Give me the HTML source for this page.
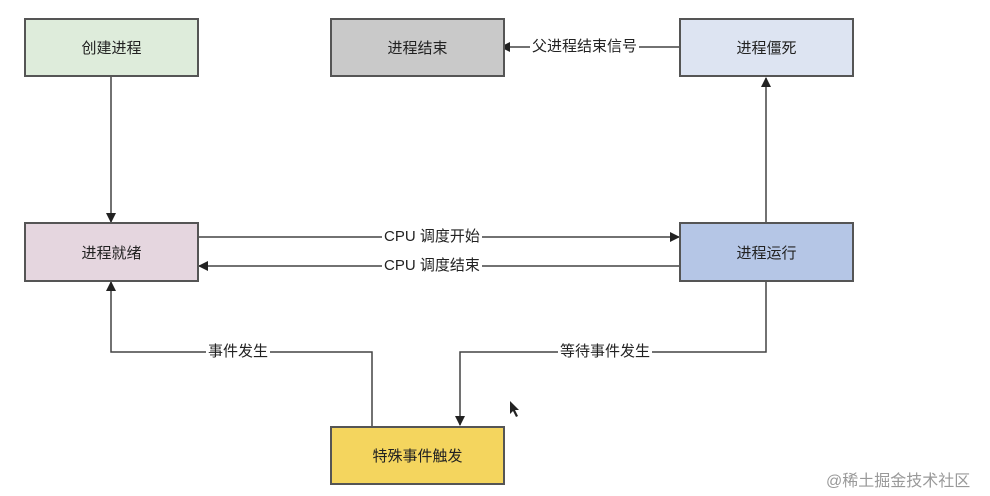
<!DOCTYPE html>
<html><head><meta charset="utf-8"><style>
body{margin:0;width:990px;height:496px;background:#fff;position:relative;overflow:hidden;font-family:"Liberation Sans","Noto Sans CJK SC",sans-serif;}
.b{position:absolute;box-sizing:border-box;border:2px solid #555;display:flex;align-items:center;justify-content:center;font-size:15px;color:#222;}
.l{position:absolute;font-size:15px;color:#222;background:#fff;padding:0 2px;line-height:18px;}
</style></head><body>
<svg width="990" height="496" style="position:absolute;left:0;top:0">
<defs><marker id="a" markerWidth="10" markerHeight="10" refX="9" refY="5" orient="auto" markerUnits="userSpaceOnUse"><path d="M0,0 L10,5 L0,10 Z" fill="#222"/></marker></defs>
<g stroke="#444" stroke-width="1.5" fill="none">
<line x1="111" y1="77" x2="111" y2="222" marker-end="url(#a)"/>
<line x1="680" y1="47" x2="501" y2="47" marker-end="url(#a)"/>
<line x1="766" y1="223" x2="766" y2="78" marker-end="url(#a)"/>
<line x1="198" y1="237" x2="679" y2="237" marker-end="url(#a)"/>
<line x1="680" y1="266" x2="199" y2="266" marker-end="url(#a)"/>
<polyline points="372,426 372,352 111,352 111,282" marker-end="url(#a)"/>
<polyline points="766,282 766,352 460,352 460,425" marker-end="url(#a)"/>
</g>
<path d="M510,401 L510,414 L513,411 L516,417 L518,416 L515,410 L519,410 Z" fill="#222"/>
</svg>
<div class="b" style="left:24px;top:18px;width:175px;height:59px;background:#deecdb">创建进程</div>
<div class="b" style="left:330px;top:18px;width:175px;height:59px;background:#c9c9c9">进程结束</div>
<div class="b" style="left:679px;top:18px;width:175px;height:59px;background:#dde4f2">进程僵死</div>
<div class="b" style="left:24px;top:222px;width:175px;height:60px;background:#e5d6df">进程就绪</div>
<div class="b" style="left:679px;top:222px;width:175px;height:60px;background:#b5c6e6">进程运行</div>
<div class="b" style="left:330px;top:426px;width:175px;height:59px;background:#f4d55e">特殊事件触发</div>
<div class="l" style="left:530px;top:38px">父进程结束信号</div>
<div class="l" style="left:382px;top:228px">CPU 调度开始</div>
<div class="l" style="left:382px;top:257px">CPU 调度结束</div>
<div class="l" style="left:206px;top:343px">事件发生</div>
<div class="l" style="left:558px;top:343px">等待事件发生</div>
<div style="position:absolute;left:826px;top:467px;font-size:16px;color:#999">@稀土掘金技术社区</div>
</body></html>
